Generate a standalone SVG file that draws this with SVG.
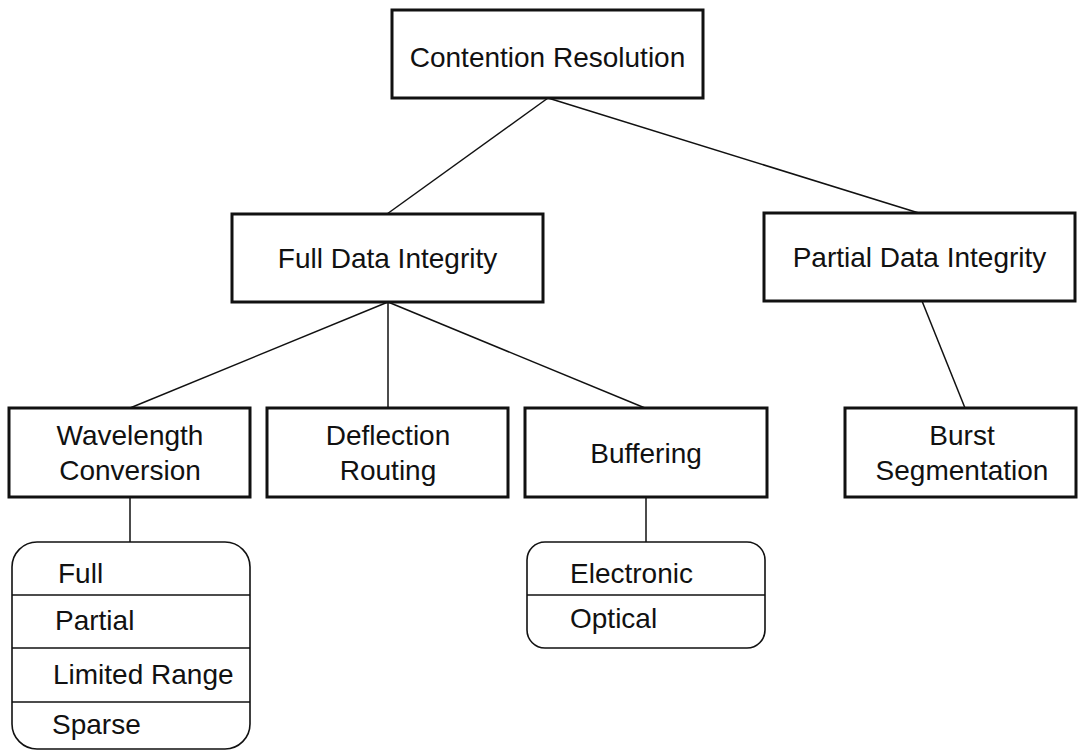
<svg xmlns="http://www.w3.org/2000/svg" width="1078" height="752" viewBox="0 0 1078 752">
<style>
.box{fill:#fff;stroke:#111;stroke-width:3}
.list{fill:#fff;stroke:#111;stroke-width:1.6}
.div{stroke:#111;stroke-width:1.5}
.conn{stroke:#111;stroke-width:1.5;fill:none}
text{font-family:"Liberation Sans",Arial,sans-serif;font-size:28px;fill:#111}
.c{text-anchor:middle}
</style>
<rect width="1078" height="752" fill="#fff"/>
<g id="connectors">
<line class="conn" x1="548" y1="98" x2="387" y2="214"/>
<line class="conn" x1="548" y1="98" x2="922" y2="214"/>
<line class="conn" x1="388" y1="302" x2="130" y2="408"/>
<line class="conn" x1="388" y1="302" x2="388" y2="408"/>
<line class="conn" x1="388" y1="302" x2="645" y2="408"/>
<line class="conn" x1="922" y1="301" x2="965" y2="408"/>
<line class="conn" x1="130" y1="497" x2="130" y2="542"/>
<line class="conn" x1="646" y1="497" x2="646" y2="542"/>
</g>
<g id="contention-resolution">
<rect class="box" x="392" y="10" width="311" height="88"/>
<text class="c" x="547.5" y="67">Contention Resolution</text>
</g>
<g id="full-data-integrity">
<rect class="box" x="232" y="214" width="311" height="88"/>
<text class="c" x="387.5" y="268">Full Data Integrity</text>
</g>
<g id="partial-data-integrity">
<rect class="box" x="764" y="213" width="311" height="88"/>
<text class="c" x="919.5" y="267">Partial Data Integrity</text>
</g>
<g id="wavelength-conversion">
<rect class="box" x="9" y="408" width="241" height="89"/>
<text class="c" x="130" y="445">Wavelength</text>
<text class="c" x="130" y="480">Conversion</text>
</g>
<g id="deflection-routing">
<rect class="box" x="267" y="408" width="241" height="89"/>
<text class="c" x="388" y="445">Deflection</text>
<text class="c" x="388" y="480">Routing</text>
</g>
<g id="buffering">
<rect class="box" x="525" y="408" width="242" height="89"/>
<text class="c" x="646" y="463">Buffering</text>
</g>
<g id="burst-segmentation">
<rect class="box" x="845" y="408" width="231" height="89"/>
<text class="c" x="962" y="445">Burst</text>
<text class="c" x="962" y="480">Segmentation</text>
</g>
<g id="wavelength-types">
<rect class="list" x="12" y="542" width="238" height="207" rx="25" ry="25"/>
<line class="div" x1="12" y1="595" x2="250" y2="595"/>
<line class="div" x1="12" y1="648" x2="250" y2="648"/>
<line class="div" x1="12" y1="702" x2="250" y2="702"/>
<text x="58" y="583">Full</text>
<text x="55" y="630">Partial</text>
<text x="53" y="684">Limited Range</text>
<text x="52" y="734">Sparse</text>
</g>
<g id="buffering-types">
<rect class="list" x="527" y="542" width="238" height="106" rx="18" ry="18"/>
<line class="div" x1="527" y1="595" x2="765" y2="595"/>
<text x="570" y="583">Electronic</text>
<text x="570" y="628">Optical</text>
</g>
</svg>
